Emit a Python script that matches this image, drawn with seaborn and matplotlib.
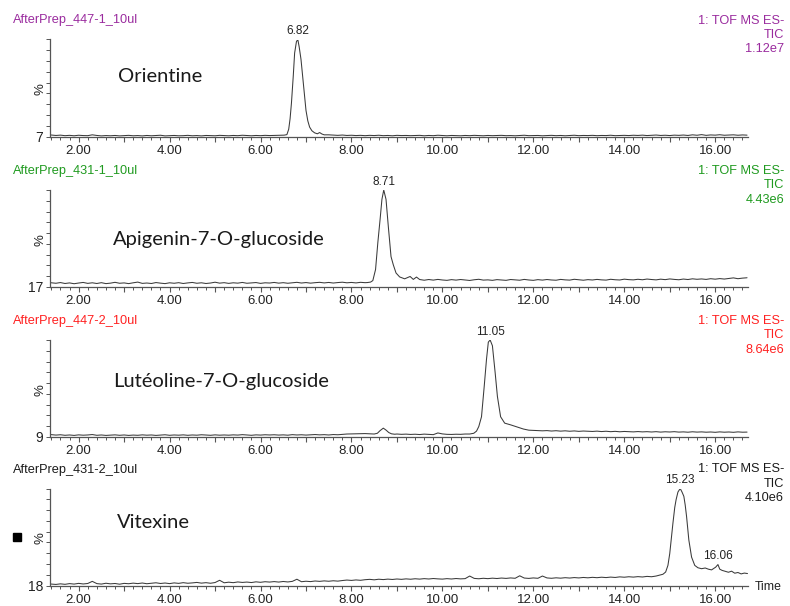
import numpy as np
import pandas as pd
import matplotlib
matplotlib.use("Agg")
import matplotlib.pyplot as plt
from matplotlib.ticker import FixedLocator, MultipleLocator, FuncFormatter
from matplotlib.patches import Rectangle
import seaborn as sns

# ---------------------------------------------------------------- data
sample_names = ["AfterPrep_447-1_10ul", "AfterPrep_431-1_10ul",
                "AfterPrep_447-2_10ul", "AfterPrep_431-2_10ul"]
compound_names = ["Orientine", "Apigenin-7-O-glucoside",
                  "Lutéoline-7-O-glucoside", "Vitexine"]
detector = "1: TOF MS ES-"
trace_kind = "TIC"
full_scale = ["1.12e7", "4.43e6", "8.64e6", "4.10e6"]
axis_floor = [7, 17, 9, 18]                       # % at the bottom of each trace
peak_labels = [[6.82], [8.71], [11.05], [15.23, 16.06]]
time_ticks = [2, 4, 6, 8, 10, 12, 14, 16]

# baseline scans every 0.1 min from 1.3 to 16.7 (nan where a peak segment takes over)
scan_times = np.round(np.arange(1.3, 16.75, 0.1), 2)
nan = np.nan

baseline_1 = [
    9.2, 8.4, 8.0, 8.3, 7.8, 8.1, 7.7, 8.2, 7.9, 7.8,
    8.6, 8.0, 7.6, 7.9, 7.7, 8.0, 7.6, 7.8, 8.1, 7.7,
    7.9, 7.6, 8.0, 7.7, 7.9, 8.2, 7.6, 7.8, 8.0, 7.7,
    7.8, 8.1, 7.7, 7.9, 7.6, 8.0, 7.8, 7.7, 8.1, 7.9,
    7.7, 8.0, 7.8, 8.2, 7.9, 7.7, 8.0, 7.8, 8.1, 7.9,
    8.0, 8.1, nan, nan, nan, nan, nan, nan, nan, nan,
    nan, nan, 8.6, 8.3, 8.1, 8.4, 8.0, 8.2, 7.9, 8.1,
    7.8, 8.1, 7.9, 8.2, 7.8, 8.0, 7.7, 8.1, 7.9, 8.0,
    7.8, 7.9, 8.1, 7.7, 8.0, 7.8, 8.2, 7.9, 7.7, 8.0,
    7.9, 7.7, 8.0, 7.8, 8.1, 7.9, 7.7, 8.0, 7.8, 7.9,
    8.1, 7.8, 7.9, 7.7, 8.0, 8.2, 7.8, 7.9, 8.0, 7.7,
    7.9, 8.1, 7.8, 8.0, 7.7, 7.9, 8.2, 7.8, 8.0, 7.9,
    8.1, 7.8, 8.0, 7.9, 8.2, 7.8, 8.0, 8.1, 7.9, 8.2,
    8.0, 8.3, 7.9, 8.1, 8.4, 8.0, 8.2, 7.9, 8.3, 8.1,
    8.4, 8.0, 8.6, 8.2, 8.8, 8.1, 8.5, 8.3, 8.7, 8.2,
    8.4, 8.6, 8.2, 8.5, 8.3,
]
peak_1_times = [6.45, 6.52, 6.58, 6.62, 6.65, 6.68, 6.72, 6.75, 6.79, 6.82,
                6.85, 6.89, 6.93, 6.97, 7.00, 7.04, 7.08, 7.13, 7.19, 7.25,
                7.30, 7.35, 7.40]
peak_1_values = [8.1, 8.3, 8.8, 14, 24, 39, 65, 87, 98, 100,
                 93, 81, 63, 45, 32, 22, 16, 12.5, 10.5, 9.6,
                 10.8, 9.4, 8.6]

baseline_2 = [
    21.5, 20.6, 20.2, 20.8, 20.0, 20.5, 19.8, 20.4, 20.9, 20.1,
    20.6, 20.0, 20.7, 19.9, 20.3, 21.0, 20.2, 20.5, 19.9, 20.6,
    21.2, 20.1, 20.4, 20.0, 20.8, 20.3, 19.9, 20.6, 20.2, 20.7,
    20.0, 20.5, 20.9, 20.2, 20.6, 20.0, 20.4, 21.1, 20.3, 20.7,
    20.1, 20.6, 20.3, 20.9, 20.2, 20.5, 20.8, 20.1, 20.6, 20.4,
    20.9, 20.3, 20.7, 20.2, 20.6, 21.0, 20.4, 20.8, 20.3, 20.7,
    21.0, 20.5, 20.9, 20.4, 20.8, 21.1, 20.6, 20.9, 20.5, 21.0,
    20.7, nan, nan, nan, nan, nan, nan, nan, nan, nan,
    nan, nan, nan, 22.8, 23.4, 22.9, 23.5, 23.0, 22.7, 23.3,
    22.9, 23.4, 23.0, 22.6, 23.2, 23.6, 22.9, 23.1, 22.7, 23.3,
    23.0, 22.7, 23.4, 23.1, 22.8, 23.5, 23.0, 22.7, 23.3, 22.9,
    23.4, 23.0, 22.8, 23.5, 23.1, 22.9, 23.6, 23.2, 22.8, 23.3,
    23.0, 23.5, 23.1, 22.9, 23.6, 23.2, 23.0, 23.7, 23.3, 23.1,
    23.6, 23.2, 23.8, 23.4, 23.1, 23.7, 23.3, 23.9, 23.5, 23.2,
    23.8, 23.4, 24.0, 23.6, 23.9, 23.5, 24.1, 23.7, 24.2, 23.8,
    24.3, 24.8, 24.1, 24.6, 24.9,
]
peak_2_times = [8.35, 8.42, 8.47, 8.53, 8.58, 8.63, 8.67, 8.71, 8.76, 8.81,
                8.87, 8.92, 8.98, 9.06, 9.17, 9.29, 9.36, 9.43, 9.50]
peak_2_values = [20.8, 21.2, 22.5, 32, 55, 75, 92, 100, 92, 69,
                 43, 36, 29, 25.6, 24, 26, 23.5, 25.5, 23.4]

baseline_3 = [
    12.0, 11.2, 10.8, 11.1, 10.6, 10.9, 10.5, 11.0, 10.7, 10.9,
    11.3, 10.6, 10.9, 10.5, 10.8, 11.0, 10.6, 10.9, 10.5, 10.8,
    10.6, 11.0, 10.7, 10.9, 10.5, 10.8, 11.1, 10.6, 10.9, 10.7,
    11.0, 10.6, 10.9, 10.7, 11.1, 10.8, 10.6, 11.0, 10.7, 10.9,
    10.7, 11.0, 10.8, 11.2, 10.9, 10.6, 11.0, 10.8, 11.1, 10.9,
    11.1, 10.8, 11.0, 10.7, 11.2, 10.9, 11.1, 10.8, 11.0, 11.3,
    11.0, 11.2, 10.9, 11.3, 11.1, 11.5, 11.8, 11.9, 12.1, 12.0,
    12.2, 12.0, nan, nan, nan, nan, nan, 11.8, 11.5, 11.7,
    11.4, 11.6, 11.3, 11.7, 11.5, 11.2, 12.8, 11.9, 11.5, 11.4,
    11.6, 11.5, 11.8, nan, nan, nan, nan, nan, nan, nan,
    nan, nan, nan, nan, nan, nan, nan, 15.2, 15.0, 14.8,
    15.0, 14.6, 14.9, 14.5, 14.8, 14.4, 14.7, 14.3, 14.6, 14.4,
    14.2, 14.5, 14.1, 14.4, 14.0, 14.3, 13.9, 14.2, 14.0, 13.8,
    14.1, 13.8, 14.0, 13.7, 14.0, 13.6, 13.9, 13.7, 14.0, 13.6,
    13.8, 13.5, 13.9, 13.6, 13.8, 13.5, 13.7, 13.4, 13.8, 13.5,
    13.7, 13.4, 13.8, 13.5, 13.6,
]
bump_3_times = [8.50, 8.57, 8.63, 8.70, 8.76, 8.82, 8.88, 8.95]
bump_3_values = [11.8, 12.5, 15.0, 17.3, 15.5, 13.2, 12.0, 11.6]
peak_3_times = [10.60, 10.69, 10.75, 10.80, 10.86, 10.92, 10.97, 11.01, 11.05,
                11.10, 11.16, 11.21, 11.28, 11.37, 11.50, 11.65, 11.78, 11.90]
peak_3_values = [11.8, 12.5, 14.5, 18.8, 28, 56.7, 82, 98, 100,
                 94.6, 69.4, 47, 28, 22, 20.4, 18.3, 16.5, 15.4]

baseline_4 = [
    19.8, 19.2, 18.9, 19.4, 19.0, 19.6, 19.2, 19.8, 19.3, 19.7,
    21.5, 19.6, 19.2, 19.9, 19.4, 19.7, 19.1, 19.8, 19.5, 20.0,
    19.6, 20.1, 19.5, 19.9, 20.3, 19.7, 20.1, 19.6, 20.2, 19.8,
    20.4, 19.9, 20.2, 20.6, 20.0, 20.4, 19.9, 20.5, 22.4, 20.3,
    20.8, 20.4, 21.0, 20.6, 20.9, 20.5, 21.1, 20.7, 21.2, 20.9,
    21.3, 20.9, 21.4, 21.0, 21.5, 23.3, 21.2, 21.6, 21.3, 21.8,
    21.5, 21.9, 21.6, 22.0, 21.7, 22.2, 22.6, 22.3, 22.7, 22.4,
    22.9, 23.2, 22.8, 23.3, 23.0, 23.4, 23.1, 23.5, 23.2, 23.6,
    23.3, 23.7, 23.4, 23.8, 23.5, 23.9, 23.6, 23.4, 23.8, 23.5,
    23.9, 23.6, 23.8, 26.0, 24.0, 23.7, 24.1, 23.8, 24.2, 23.9,
    24.3, 24.0, 24.4, 24.1, 26.2, 24.3, 24.0, 24.4, 24.1, 26.0,
    24.4, 24.1, 24.5, 24.2, 24.6, 24.3, 24.7, 24.4, 24.8, 24.5,
    24.9, 24.6, 25.0, 24.7, 25.1, 24.8, 25.3, 25.0, 25.4, 25.1,
    25.5, 25.2, 25.7, 25.4, nan, nan, nan, nan, nan, nan,
    nan, nan, nan, nan, nan, nan, nan, nan, nan, nan,
    nan, nan, nan, nan, nan,
]
peak_4_times = [14.70, 14.78, 14.85, 14.91, 14.96, 15.00, 15.04, 15.07, 15.11, 15.14,
                15.18, 15.23, 15.27, 15.31, 15.34, 15.37, 15.42, 15.48, 15.55, 15.62,
                15.70, 15.78, 15.85, 15.92, 15.97, 16.01, 16.06, 16.10, 16.15, 16.22,
                16.29, 16.36, 16.43, 16.50, 16.57, 16.64, 16.71]
peak_4_values = [26.0, 26.8, 27.5, 29.4, 35, 45, 60, 70.7, 84, 90.6,
                 97, 100, 97, 93.4, 86, 76.3, 56.4, 42, 35, 33,
                 32.2, 32.8, 31.8, 31.2, 32.5, 33.5, 35.7, 31.8, 30.8, 30.0,
                 29.2, 30.1, 28.4, 29.0, 27.8, 28.5, 28.1]


def build_trace(baseline, segments):
    """Merge the 0.1-min baseline scans with the densely sampled peak segments."""
    t = np.asarray(scan_times, dtype=float)
    v = np.asarray(baseline, dtype=float)
    keep = ~np.isnan(v)
    for seg_t, _ in segments:
        keep &= ~((t >= min(seg_t) - 1e-9) & (t <= max(seg_t) + 1e-9))
    all_t = np.concatenate([t[keep]] + [np.asarray(s[0], float) for s in segments])
    all_v = np.concatenate([v[keep]] + [np.asarray(s[1], float) for s in segments])
    order = np.argsort(all_t)
    return pd.DataFrame({"Time": all_t[order], "Intensity": all_v[order]})


traces = [
    build_trace(baseline_1, [(peak_1_times, peak_1_values)]),
    build_trace(baseline_2, [(peak_2_times, peak_2_values)]),
    build_trace(baseline_3, [(bump_3_times, bump_3_values),
                             (peak_3_times, peak_3_values)]),
    build_trace(baseline_4, [(peak_4_times, peak_4_values)]),
]

# ---------------------------------------------------------------- style
sns.set_style("ticks")
plt.rcParams["font.family"] = ["Liberation Sans", "DejaVu Sans"]

header_colors = ["#9a2b9e", "#1f9a1f", "#ff2020", "#1a1a1a"]
name_positions = [(118, 82), (113, 245), (113, 387), (117, 528)]
axis_bottoms = [136.5, 287.0, 437.0, 585.5]
AX_LEFT, AX_RIGHT, AX_H = 50.0, 747.5, 97.0
W, H = 790, 606
AXIS_GREY = "#555555"
TEXT_DARK = "#222222"

fig = plt.figure(figsize=(W / 100, H / 100), dpi=100)
fig.patch.set_facecolor("white")


def fx(px):
    return px / W


def fy(py):
    return 1 - py / H


def even_time_label(x, _pos):
    r = int(round(x))
    return f"{x:.2f}" if (abs(x - r) < 1e-6 and r in time_ticks) else ""


for i, df in enumerate(traces):
    bottom = axis_bottoms[i]
    ax = fig.add_axes([fx(AX_LEFT), fy(bottom), (AX_RIGHT - AX_LEFT) / W, AX_H / H])
    sns.lineplot(data=df, x="Time", y="Intensity", ax=ax, estimator=None,
                 color="#3a3a3a", linewidth=0.75)
    ax.set_xlim(1.37, 16.71)
    ax.set_ylim(axis_floor[i], 100)
    ax.set_xlabel("")
    ax.set_ylabel("")
    ax.set_facecolor("white")
    for side in ("top", "right"):
        ax.spines[side].set_visible(False)
    for side in ("left", "bottom"):
        ax.spines[side].set_color(AXIS_GREY)
        ax.spines[side].set_linewidth(0.9)

    # time axis: tick every 0.2 min, bigger tick every minute, labels on even minutes
    ax.xaxis.set_major_locator(MultipleLocator(1.0))
    ax.xaxis.set_minor_locator(MultipleLocator(0.2))
    ax.xaxis.set_major_formatter(FuncFormatter(even_time_label))
    ax.tick_params(axis="x", which="major", direction="out", length=3.5, width=0.8,
                   color=AXIS_GREY, labelsize=9.5, labelcolor=TEXT_DARK, pad=2.5)
    ax.tick_params(axis="x", which="minor", direction="out", length=2.2, width=0.7,
                   color=AXIS_GREY)

    # intensity axis: ten evenly spaced ticks, only the floor value is written
    floor = axis_floor[i]
    ax.yaxis.set_major_locator(FixedLocator([floor]))
    ax.yaxis.set_major_formatter(FuncFormatter(lambda y, _p: f"{y:g}"))
    ax.yaxis.set_minor_locator(FixedLocator(np.linspace(floor, 100, 10)))
    ax.tick_params(axis="y", which="both", direction="out", length=3, width=0.7,
                   color=AXIS_GREY, labelsize=10, labelcolor=TEXT_DARK, pad=2)

    # retention-time labels above peaks
    for rt in peak_labels[i]:
        top = np.interp(rt, df["Time"], df["Intensity"])
        ax.annotate(f"{rt:.2f}", (rt, top), xytext=(0, 1.5),
                    textcoords="offset points", ha="center", va="bottom",
                    fontsize=8.5, color=TEXT_DARK)

    # headers
    base = bottom - 113
    fig.text(fx(12.5), fy(base), sample_names[i], color=header_colors[i],
             fontsize=9.2, ha="left", va="baseline")
    for k, line in enumerate([detector, trace_kind, full_scale[i]]):
        fig.text(fx(784), fy(base + 14.3 * k), line, color=header_colors[i],
                 fontsize=9.2, ha="right", va="baseline")

    fig.text(fx(40.5), fy(bottom - 47), "%", rotation=90, ha="center",
             va="center", fontsize=9.5, color=TEXT_DARK)

    nx, ny = name_positions[i]
    fig.text(fx(nx), fy(ny), compound_names[i], family=["Lato", "DejaVu Sans"],
             fontsize=14.5, color="#1a1a1a", ha="left", va="baseline")

fig.text(fx(755), fy(590.5), "Time", fontsize=8.8, color=TEXT_DARK,
         ha="left", va="baseline")
fig.add_artist(Rectangle((fx(13), fy(540.5)), 7.5 / W, 7.5 / H,
                         transform=fig.transFigure, color="black"))

fig.savefig("out.png", dpi=100, facecolor="white")
